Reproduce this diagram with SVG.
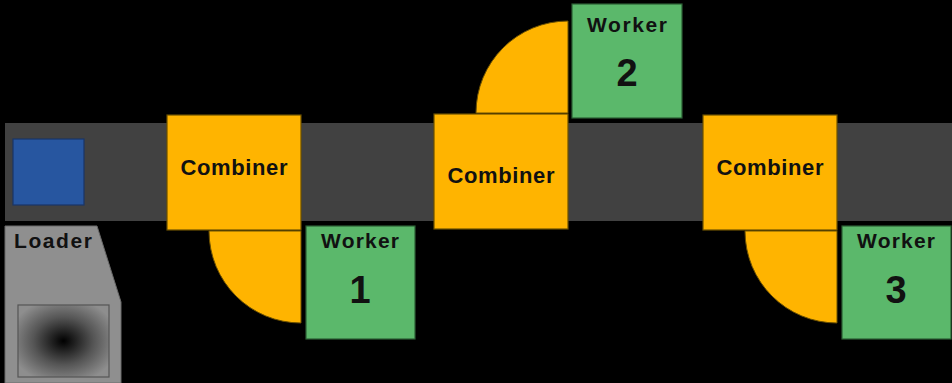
<svg xmlns="http://www.w3.org/2000/svg" width="952" height="383" viewBox="0 0 952 383">
  <defs>
    <radialGradient id="hopperShade" cx="0.5" cy="0.5" r="0.6">
      <stop offset="0" stop-color="#000000"/>
      <stop offset="0.55" stop-color="#555555"/>
      <stop offset="1" stop-color="#8e8e8e"/>
    </radialGradient>
    <style>
      .belt { fill: #414141; }
      .combiner { fill: #FFB400; stroke: #6b5000; stroke-width: 1.2; }
      .arm { fill: #FFB400; stroke: #6b5000; stroke-width: 1; }
      .worker { fill: #5BB86B; stroke: #2c5e34; stroke-width: 1.2; }
      .label { font-family: "Liberation Sans", Arial, sans-serif; font-weight: bold; fill: #111111; text-anchor: middle; }
      .cmb { font-size: 22px; }
      .wk { font-size: 21px; }
      .num { font-size: 38px; }
    </style>
  </defs>

  <rect x="0" y="0" width="952" height="383" fill="#000000"/>

  <!-- conveyor belt -->
  <g id="belt">
    <rect class="belt" x="5" y="123" width="947" height="98"/>
  </g>

  <!-- item on the belt -->
  <g id="item">
    <rect x="13" y="139" width="71" height="66" fill="#2756A0" stroke="#1a3566" stroke-width="1.2"/>
  </g>

  <!-- loader hopper -->
  <g id="loader">
    <polygon points="5,226 97,226 121,302 121,383 5,383" fill="#8f8f8f" stroke="#6a6a6a" stroke-width="1"/>
    <text class="label wk" x="53" y="248" textLength="78" lengthAdjust="spacing">Loader</text>
    <rect x="18" y="305" width="91" height="72" fill="url(#hopperShade)" stroke="#555555" stroke-width="1.2"/>
  </g>

  <!-- station 1 -->
  <g id="combiner1">
    <path class="arm" d="M301,231 L209,231 A92,92 0 0 0 301,323 Z"/>
    <rect class="combiner" x="167" y="115" width="134" height="115"/>
    <text class="label cmb" x="234" y="175" textLength="107" lengthAdjust="spacing">Combiner</text>
  </g>
  <g id="worker1">
    <rect class="worker" x="306" y="226" width="109" height="113"/>
    <text class="label wk" x="360" y="248" textLength="78" lengthAdjust="spacing">Worker</text>
    <text class="label num" x="360" y="303">1</text>
  </g>

  <!-- station 2 -->
  <g id="combiner2">
    <path class="arm" d="M568,113 L476,113 A92,92 0 0 1 568,21 Z"/>
    <rect class="combiner" x="434" y="114" width="134" height="115"/>
    <text class="label cmb" x="501" y="183" textLength="107" lengthAdjust="spacing">Combiner</text>
  </g>
  <g id="worker2">
    <rect class="worker" x="572" y="4" width="110" height="114"/>
    <text class="label wk" x="627" y="32" textLength="80" lengthAdjust="spacing">Worker</text>
    <text class="label num" x="627" y="86">2</text>
  </g>

  <!-- station 3 -->
  <g id="combiner3">
    <path class="arm" d="M837,231 L745,231 A92,92 0 0 0 837,323 Z"/>
    <rect class="combiner" x="703" y="115" width="134" height="115"/>
    <text class="label cmb" x="770" y="175" textLength="107" lengthAdjust="spacing">Combiner</text>
  </g>
  <g id="worker3">
    <rect class="worker" x="842" y="226" width="109" height="113"/>
    <text class="label wk" x="896" y="248" textLength="78" lengthAdjust="spacing">Worker</text>
    <text class="label num" x="896" y="303">3</text>
  </g>
</svg>
